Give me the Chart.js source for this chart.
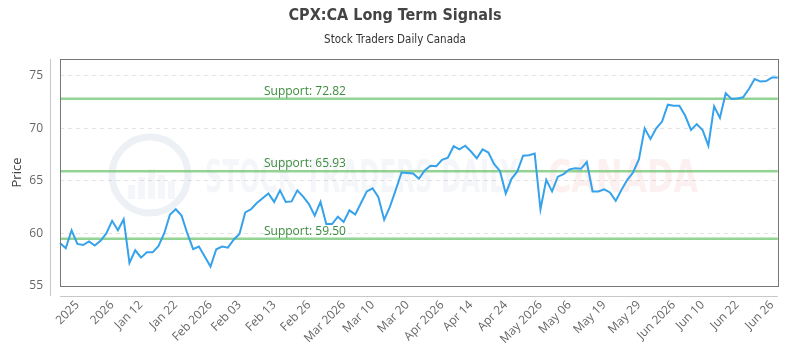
<!DOCTYPE html>
<html>
<head>
<meta charset="utf-8">
<script src="https://cdn.jsdelivr.net/npm/chart.js@4.4.1/dist/chart.umd.min.js"></script>
<style>
  html, body { margin: 0; padding: 0; background: #fff; }
</style>
</head>
<body>
<canvas id="chart" width="800" height="350"></canvas>
<script>
// Precios de cierre
const prices = [
  59.1, 58.6, 60.3, 59.0, 58.9, 59.25, 58.85, 59.3, 60.0, 61.2,
  60.3, 61.35, 57.2, 58.4, 57.7, 58.2, 58.2, 58.8, 60.0, 61.8,
  62.3, 61.7, 60.0, 58.5, 58.75, 57.8, 56.85, 58.5, 58.75, 58.65,
  59.4, 59.95, 62.0, 62.3, 62.9, 63.35, 63.8, 63.0, 64.1, 63.0,
  63.05, 64.1, 63.5, 62.8, 61.7, 63.0, 60.9, 60.9, 61.6, 61.1,
  62.2, 61.8, 62.9, 64.0, 64.3, 63.45, 61.3, 62.55, 64.15, 65.8,
  65.75, 65.7, 65.2, 66.0, 66.45, 66.4, 67.0, 67.2, 68.3, 68.0,
  68.35, 67.8, 67.15, 68.0, 67.7, 66.6, 65.95, 63.8, 65.2, 65.9,
  67.4, 67.45, 67.6, 62.3, 65.1, 64.0, 65.4, 65.65, 66.1, 66.2,
  66.15, 66.8, 64.0, 64.0, 64.2, 63.9, 63.1, 64.15, 65.1, 65.8,
  67.05, 70.0, 69.0, 70.0, 70.65, 72.25, 72.15, 72.15, 71.2, 69.85,
  70.4, 69.85, 68.35, 72.1, 71.0, 73.35, 72.8, 72.85, 72.95, 73.75,
  74.7, 74.45, 74.5, 74.85, 74.85
];

// Etiquetas del eje X y el punto donde cae cada una
const tickLabels = [
  "2025", "2026", "Jan 12", "Jan 22", "Feb 2026", "Feb 03", "Feb 13", "Feb 26",
  "Mar 2026", "Mar 10", "Mar 20", "Apr 2026", "Apr 14", "Apr 24", "May 2026",
  "May 06", "May 19", "May 29", "Jun 2026", "Jun 10", "Jun 22", "Jun 26"
];
const tickIndex = [3, 9, 14, 20, 26, 31, 37, 43, 49, 54, 60, 66, 71, 77, 83, 88, 94, 100, 106, 111, 117, 123];

const supportLevels = [72.82, 65.93, 59.50];

const categories = prices.map(() => "");
tickIndex.forEach((idx, k) => { categories[idx] = tickLabels[k]; });

const narrow = "'Liberation Sans Narrow', 'DejaVu Sans Condensed', 'Open Sans', sans-serif";

// Marca de agua, líneas de soporte y marco
const decoPlugin = {
  id: "deco",
  beforeDatasetsDraw(chart) {
    const { ctx, chartArea: a, scales: { y } } = chart;
    ctx.save();

    // logo redondo
    const cx = a.left + 90, cy = a.top + 116;
    ctx.strokeStyle = "rgba(60,95,150,0.09)";
    ctx.lineWidth = 7;
    ctx.beginPath();
    ctx.arc(cx, cy, 38, 0, Math.PI * 2);
    ctx.stroke();
    ctx.fillStyle = "rgba(60,95,150,0.06)";
    [[-22, 14], [-12, 22], [-2, 30], [8, 24], [18, 18]].forEach(([dx, h]) => {
      ctx.fillRect(cx + dx, cy + 24 - h, 7, h);
    });

    // texto de la marca de agua
    ctx.textBaseline = "alphabetic";
    ctx.font = "bold 44px " + narrow;
    const txt = "STOCK TRADERS DAILY";
    ctx.save();
    ctx.translate(a.left + 145, a.top + 133);
    ctx.scale(313 / ctx.measureText(txt).width, 1);
    ctx.fillStyle = "rgba(60,95,150,0.06)";
    ctx.fillText(txt, 0, 0);
    ctx.restore();
    ctx.save();
    ctx.translate(a.left + 488, a.top + 133);
    ctx.scale(150 / ctx.measureText("CANADA").width, 1);
    ctx.fillStyle = "rgba(235,60,60,0.08)";
    ctx.fillText("CANADA", 0, 0);
    ctx.restore();

    // soportes
    supportLevels.forEach((v) => {
      const py = y.getPixelForValue(v);
      ctx.strokeStyle = "rgba(120,200,120,0.8)";
      ctx.lineWidth = 2.5;
      ctx.beginPath();
      ctx.moveTo(a.left, py);
      ctx.lineTo(a.right, py);
      ctx.stroke();
      ctx.fillStyle = "#3d8c3d";
      ctx.font = "12px 'Open Sans', sans-serif";
      ctx.fillText("Support: " + v.toFixed(2), a.left + 204, py - 4);
    });
    ctx.restore();
  },
  afterDraw(chart) {
    const { ctx, chartArea: a } = chart;
    ctx.save();
    ctx.lineWidth = 1;
    ctx.strokeStyle = "#777";
    ctx.strokeRect(Math.round(a.left) + 0.5, Math.round(a.top) + 0.5, Math.round(a.width), Math.round(a.height));
    ctx.strokeStyle = "#c8c8c8";
    ctx.beginPath();
    ctx.moveTo(a.left, Math.round(a.bottom) + 10.5);
    ctx.lineTo(a.right, Math.round(a.bottom) + 10.5);
    ctx.moveTo(Math.round(a.left) - 9.5, a.top);
    ctx.lineTo(Math.round(a.left) - 9.5, a.bottom + 10);
    ctx.stroke();
    ctx.restore();
  }
};

new Chart(document.getElementById("chart"), {
  type: "line",
  data: {
    labels: categories,
    datasets: [{
      data: prices,
      borderColor: "rgb(54,162,235)",
      borderWidth: 2,
      pointRadius: 0,
      tension: 0,
      fill: false,
    }],
  },
  options: {
    responsive: false,
    animation: false,
    layout: { padding: { left: 0, right: 10, top: 0, bottom: 0 } },
    plugins: {
      legend: { display: false },
      tooltip: { enabled: false },
      title: {
        display: true,
        text: "CPX:CA Long Term Signals",
        color: "#444",
        font: { family: narrow, size: 16, weight: "bold" },
        padding: { top: 6, bottom: 4 },
      },
      subtitle: {
        display: true,
        text: "Stock Traders Daily Canada",
        color: "#333",
        font: { family: narrow, size: 11.5 },
        padding: { top: 4, bottom: 12 },
      },
    },
    scales: {
      x: {
        grid: { display: false, drawTicks: false },
        border: { display: false },
        ticks: {
          autoSkip: false,
          minRotation: 45,
          maxRotation: 45,
          padding: 12,
          color: "#666",
          font: { family: "'Open Sans', sans-serif", size: 12 },
        },
        afterFit: (s) => { s.height = 64; },
      },
      y: {
        min: 55,
        max: 76.6,
        grid: { color: "#e4e4e4", drawTicks: false },
        border: { display: false, dash: [4, 4] },
        ticks: {
          stepSize: 5,
          padding: 17,
          color: "#666",
          font: { family: "'Open Sans', sans-serif", size: 12 },
        },
        afterBuildTicks: (s) => { s.ticks = s.ticks.filter((t) => t.value % 5 === 0); },
        title: {
          display: true,
          text: "Price",
          color: "#444",
          font: { family: "'Open Sans', sans-serif", size: 13 },
          padding: { top: 9, bottom: 0 },
        },
        afterFit: (s) => { s.width = 60; },
      },
    },
  },
  plugins: [decoPlugin],
});
</script>
</body>
</html>
